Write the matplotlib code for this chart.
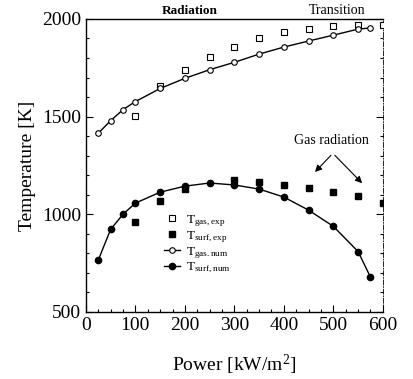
import matplotlib
matplotlib.use("Agg")
import matplotlib.pyplot as plt
from matplotlib.ticker import MultipleLocator

plt.rcParams['font.family'] = ['Liberation Serif', 'DejaVu Serif']
plt.rcParams['mathtext.fontset'] = 'custom'
plt.rcParams['mathtext.rm'] = 'Liberation Serif'
plt.rcParams['mathtext.it'] = 'Liberation Serif'

# Data
gas_num_x = [25, 50, 75, 100, 150, 200, 250, 300, 350, 400, 450, 500, 550, 575]
gas_num_y = [1415, 1479, 1536, 1577, 1644, 1696, 1740, 1778, 1820, 1856, 1887, 1917, 1948, 1954]

gas_exp_x = [100, 150, 200, 250, 300, 350, 400, 450, 500, 550, 600]
gas_exp_y = [1505, 1655, 1737, 1804, 1856, 1902, 1933, 1948, 1964, 1969, 1969]

surf_num_x = [25, 50, 75, 100, 150, 200, 250, 300, 350, 400, 450, 500, 550, 575]
surf_num_y = [765, 923, 1000, 1057, 1113, 1144, 1160, 1150, 1129, 1088, 1021, 938, 809, 678]

surf_exp_x = [100, 150, 200, 300, 350, 400, 450, 500, 550, 600]
surf_exp_y = [959, 1067, 1129, 1175, 1165, 1150, 1134, 1113, 1093, 1057]

fig = plt.figure(figsize=(4.13, 3.79), dpi=100)
ax = fig.add_axes([0.208, 0.177, 0.719, 0.773])

ax.plot(gas_exp_x, gas_exp_y, linestyle='none', marker='s', ms=4.5, mfc='white', mec='black', mew=0.8,
        label=r'$\mathregular{T_{gas,exp}}$', zorder=3)
ax.plot(surf_exp_x, surf_exp_y, linestyle='none', marker='s', ms=5, mfc='black', mec='black',
        label=r'$\mathregular{T_{surf,exp}}$', zorder=3)
ax.plot(gas_num_x, gas_num_y, color='black', lw=1.0, marker='o', ms=4, mfc='white', mec='black', mew=0.8,
        label=r'$\mathregular{T_{gas.num}}$', zorder=4)
ax.plot(surf_num_x, surf_num_y, color='black', lw=1.0, marker='o', ms=4.5, mfc='black', mec='black',
        label=r'$\mathregular{T_{surf,num}}$', zorder=4)

ax.set_xlim(0, 600)
ax.set_ylim(500, 2000)
ax.xaxis.set_major_locator(MultipleLocator(100))
ax.xaxis.set_minor_locator(MultipleLocator(25))
ax.yaxis.set_major_locator(MultipleLocator(500))
ax.yaxis.set_minor_locator(MultipleLocator(100))
ax.tick_params(which='both', direction='in', right=True, top=False, labelsize=14, width=0.8)
ax.tick_params(which='major', length=5)
ax.tick_params(which='minor', length=2.5)

for s in ['left', 'bottom', 'top']:
    ax.spines[s].set_linewidth(1.0)
ax.spines['right'].set_linestyle((0, (6, 2, 1, 2)))
ax.spines['right'].set_linewidth(0.6)

ax.set_xlabel(r'Power [kW/m$^\mathregular{2}$]', fontsize=14, labelpad=14)
ax.set_ylabel('Temperature [K]', fontsize=14, labelpad=4)

ax.text(210, 2010, 'Radiation', ha='center', va='bottom', fontsize=9.5, fontweight='bold')
ax.text(507, 2010, 'Transition', ha='center', va='bottom', fontsize=10)

ax.text(497, 1376, 'Gas radiation', ha='center', va='center', fontsize=10)
ax.annotate('', xy=(459, 1206), xytext=(499, 1312),
            arrowprops=dict(arrowstyle='-|>', color='black', lw=0.8, mutation_scale=10))
ax.annotate('', xy=(562, 1149), xytext=(499, 1312),
            arrowprops=dict(arrowstyle='-|>', color='black', lw=0.8, mutation_scale=10))

leg = ax.legend(loc='upper left', bbox_to_anchor=(0.245, 0.355), frameon=False, fontsize=9.5,
                handlelength=1.2, handletextpad=0.5, labelspacing=0.02, borderaxespad=0)

fig.savefig('out.png', dpi=100)
